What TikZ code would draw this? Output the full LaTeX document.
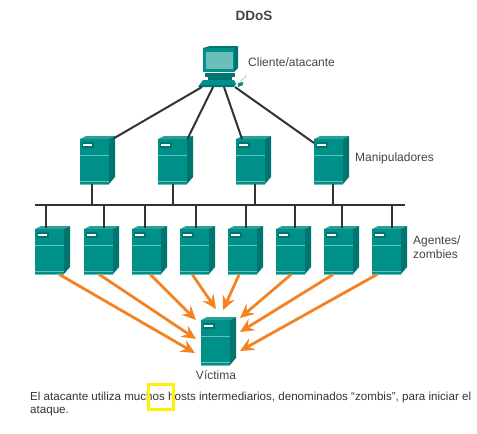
\documentclass[tikz,border=0pt]{standalone}
\usepackage{fontspec}
\setmainfont{Liberation Sans}
\usetikzlibrary{arrows.meta, positioning}
\definecolor{cteal}{HTML}{00908A}
\definecolor{cdark}{HTML}{00756F}
\definecolor{clight}{HTML}{2A9F98}
\definecolor{cpale}{HTML}{6CBFB9}
\definecolor{corange}{HTML}{F58220}
\definecolor{cline}{HTML}{333333}
\definecolor{ctext}{HTML}{444444}
\tikzset{
  every picture/.style={x=1pt, y=-1pt, font=\fontsize{12}{14}\selectfont},
  label/.style={anchor=west, text=ctext, inner sep=0pt},
  link/.style={draw=cline, line width=2pt},
  attack/.style={-{Stealth[length=14pt, width=13pt, inset=5pt]}, draw=corange, line width=2.8pt},
  pics/server/.style={code={
    \fill[clight] (0,3) -- (6,0) -- (35,0) -- (29,3) -- cycle;
    \fill[cdark] (29,3) -- (35,0) -- (35,41) -- (29,48) -- cycle;
    \node[fill=cteal, minimum width=29pt, minimum height=45pt, inner sep=0pt, anchor=north west] (box) at (0,3) {};
    \fill[cdark] (2,6) rectangle (14,12);
    \fill[white] (3,8) rectangle (12,9.5);
    \draw[cpale, line width=0.5pt] (0,19) -- (29,19);
    \draw[cpale, line width=0.5pt] (0,45) -- (29,45);
    \draw[cpale, line width=0.7pt] (0,48) -- (29,48);
  }},
}
\begin{document}
\begin{tikzpicture}
  \useasboundingbox (0,0) rectangle (477,434);
  \node[font=\fontsize{13.5}{15}\selectfont\bfseries, text=ctext] (title) at (254,16) {DDoS};
  % computer
  \fill[cdark] (203,48) -- (210,46) -- (238,46) -- (238,68) -- (234,72) -- (234,48) -- cycle;
  \node[fill=cteal, minimum width=31pt, minimum height=24pt, inner sep=0pt, anchor=north west] (screen) at (203,48) {};
  \fill[cpale] (206,52) rectangle (233,69);
  \fill[cdark] (205,73) -- (235,73) -- (235,77) -- (205,77) -- cycle;
  \fill[cdark] (208,77) rectangle (232,80);
  \fill[cteal] (203,80) -- (234,80) -- (236,84) -- (234,87) -- (198,87) -- cycle;
  \fill[cdark] (199,85) rectangle (234,87);
  \fill[cteal] (238,83) -- (243,82) -- (243,85) -- (238,87) -- cycle;
  \draw[cpale, line width=0.4pt] (240,82) .. controls (243,77) and (248,78) .. (245,75);
  \coordinate (p1) at (202,87);
  \coordinate (p2) at (213,87);
  \coordinate (p3) at (224,87);
  \coordinate (p4) at (235,87);
  % handlers
  \pic (h1) at (80,136) {server};
  \pic (h2) at (158,136) {server};
  \pic (h3) at (236,136) {server};
  \pic (h4) at (314,136) {server};
  % agents
  \pic (a1) at (35,226) {server};
  \pic (a2) at (84,226) {server};
  \pic (a3) at (132,226) {server};
  \pic (a4) at (180,226) {server};
  \pic (a5) at (228,226) {server};
  \pic (a6) at (276,226) {server};
  \pic (a7) at (324,226) {server};
  \pic (a8) at (372,226) {server};
  % victim
  \pic (v) at (201,317) {server};
  \draw[link] (p1) -- ([shift={(5pt,1pt)}]h1box.north east);
  \draw[link] (p2) -- (h2box.north east);
  \draw[link] (p3) -- ([xshift=6pt]h3box.north west);
  \draw[link] (p4) -- ([yshift=-4pt]h4box.north west);
  % bus
  \coordinate (busl) at (35,205);
  \coordinate (busr) at (405,205);
  \draw[link] (busl) -- (busr);
  \foreach \h/\d in {h1/-2.5,h2/0.5,h3/4,h4/4} {
    \draw[link] ([xshift=\d pt]\h box.south) -- ([xshift=\d pt]\h box.south |- busl);
  }
  \foreach \a/\d in {a1/-3.5,a2/5.5,a3/-1.5,a4/1.5,a5/3.5,a6/4.5,a7/3.5,a8/5.5} {
    \draw[link] ([xshift=\d pt, yshift=1.5pt]\a box.north) -- ([xshift=\d pt]\a box.north |- busl);
  }
  % attack
  \coordinate (t1) at (195,353);
  \coordinate (t2) at (196,339);
  \coordinate (t3) at (196,320);
  \coordinate (t4) at (216,309);
  \coordinate (t5) at (223,310);
  \coordinate (t6) at (240,318);
  \coordinate (t7) at (240,332);
  \coordinate (t8) at (240,351);
  \draw[attack] ([xshift=9.5pt]a1box.south) -- (t1);
  \draw[attack] ([xshift=0.5pt]a2box.south) -- (t2);
  \draw[attack] ([xshift=3.5pt]a3box.south) -- (t3);
  \draw[attack] ([xshift=-2.5pt]a4box.south) -- (t4);
  \draw[attack] ([xshift=-3.5pt]a5box.south) -- (t5);
  \draw[attack] ([xshift=0.5pt]a6box.south) -- (t6);
  \draw[attack] ([xshift=-5.5pt]a7box.south) -- (t7);
  \draw[attack] ([xshift=-9.5pt]a8box.south) -- (t8);
  % labels
  \node[label] (lc) at (248,62) {Cliente/atacante};
  \node[label] (lh) at (355,158) {Manipuladores};
  \node[label, align=left] (la) at (413,247) {Agentes/\\zombies};
  \node[text=ctext, inner sep=0pt] (lv) at (216,375) {Víctima};
  \node[anchor=north west, inner sep=0pt, text=cline, align=left, font=\fontsize{11.6}{13}\selectfont] (desc) at (30,391.5) {El atacante utiliza muchos hosts intermediarios, denominados “zombis”, para iniciar el\\ataque.};
  \node[draw=yellow, line width=3pt, minimum width=25pt, minimum height=25pt, inner sep=0pt] (mark) at (161,397) {};
\end{tikzpicture}
\end{document}
